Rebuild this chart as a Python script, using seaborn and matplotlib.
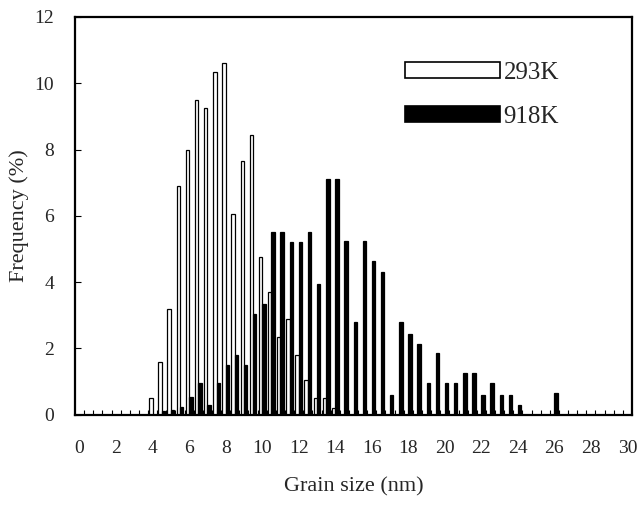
import numpy as np
import pandas as pd
import matplotlib
matplotlib.use("Agg")
import matplotlib.pyplot as plt
from matplotlib.patches import Patch
from matplotlib.ticker import FixedLocator
import seaborn as sns

# grain size categories (nm), 0.5 nm bins
grain_size = [i * 0.5 for i in range(61)]

# Frequency (%) for 293K (white bars)
freq_293K = [0, 0, 0, 0, 0, 0, 0, 0,          # 0 - 3.5
             0.5, 1.6, 3.2, 6.9, 8.0, 9.5, 9.25, 10.35,   # 4 - 7.5
             10.6, 6.05, 7.65, 8.45, 4.75, 3.7, 2.35, 2.9,  # 8 - 11.5
             1.8, 1.05, 0.5, 0.5, 0.2, 0, 0, 0,       # 12 - 15.5
             0, 0, 0, 0, 0, 0, 0, 0,                  # 16 - 19.5
             0, 0, 0, 0, 0, 0, 0, 0,                  # 20 - 23.5
             0, 0, 0, 0, 0, 0, 0, 0,                  # 24 - 27.5
             0, 0, 0, 0, 0]                           # 28 - 30

# Frequency (%) for 918K (black bars)
freq_918K = [0, 0, 0, 0, 0, 0, 0, 0,          # 0 - 3.5
             0, 0.1, 0.15, 0.25, 0.55, 0.95, 0.3, 0.95,   # 4 - 7.5
             1.5, 1.8, 1.5, 3.05, 3.35, 5.5, 5.5, 5.2,    # 8 - 11.5
             5.2, 5.5, 3.95, 7.1, 7.1, 5.25, 2.8, 5.25,   # 12 - 15.5
             4.65, 4.3, 0.6, 2.8, 2.45, 2.15, 0.95, 1.85, # 16 - 19.5
             0.95, 0.95, 1.25, 1.25, 0.6, 0.95, 0.6, 0.6, # 20 - 23.5
             0.3, 0, 0, 0, 0.65, 0, 0, 0,              # 24 - 27.5
             0, 0, 0, 0, 0]                            # 28 - 30

series_names = ["293K", "918K"]
x_ticks = list(range(0, 31, 2))
y_ticks = list(range(0, 13, 2))

df = pd.DataFrame({
    "Grain size": grain_size * 2,
    "Frequency": freq_293K + freq_918K,
    "Series": [series_names[0]] * len(grain_size) + [series_names[1]] * len(grain_size),
})

sns.set_style("white")
plt.rcParams["font.family"] = ["Liberation Serif", "DejaVu Serif"]

fig = plt.figure(figsize=(6.41, 5.14), dpi=100)
ax = fig.add_axes([0.117, 0.193, 0.869, 0.774])

sns.barplot(data=df, x="Grain size", y="Frequency", hue="Series",
            hue_order=series_names, palette={"293K": "white", "918K": "black"},
            native_scale=True, width=0.75, edgecolor="black", linewidth=0.9,
            errorbar=None, legend=False, ax=ax)

ax.set_xlim(-0.25, 30.25)
ax.set_ylim(0, 12)
ax.xaxis.set_major_locator(FixedLocator(x_ticks))
ax.set_xticklabels([str(t) for t in x_ticks])
ax.xaxis.set_minor_locator(FixedLocator([0.25 + 0.5 * k for k in range(60)]))
ax.set_yticks(y_ticks)
ax.set_yticklabels([str(t) for t in y_ticks])

ax.tick_params(axis="x", which="major", length=0, labelsize=14, pad=18)
ax.tick_params(axis="x", which="minor", direction="in", length=3.5, width=0.8,
               bottom=True, color="black")
ax.tick_params(axis="y", which="major", direction="in", length=4, width=0.8,
               left=True, labelsize=14, pad=15, color="black")

for sp in ax.spines.values():
    sp.set_visible(True)
    sp.set_color("black")
    sp.set_linewidth(1.6)

ax.set_xlabel("Grain size (nm)", fontsize=16, labelpad=15)
ax.set_ylabel("Frequency (%)", fontsize=16, labelpad=4)

handles = [Patch(facecolor="white", edgecolor="black", linewidth=1.2, label="293K"),
           Patch(facecolor="black", edgecolor="black", linewidth=1.2, label="918K")]
ax.legend(handles=handles, loc="upper left", bbox_to_anchor=(0.592, 0.887),
          frameon=False, fontsize=18, handlelength=3.8, handleheight=0.64,
          handletextpad=0.15, labelspacing=0.88, borderpad=0, borderaxespad=0)

fig.savefig("out.png", dpi=100)
